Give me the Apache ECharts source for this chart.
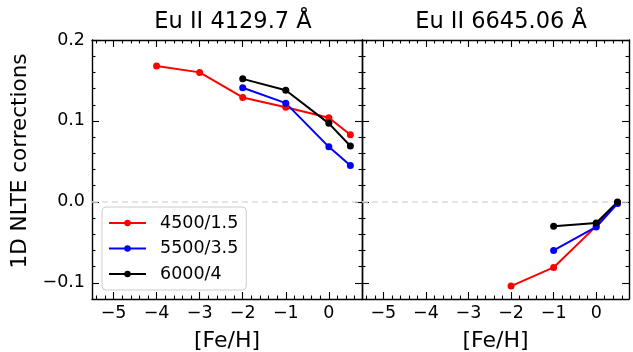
<!DOCTYPE html>
<html><head><meta charset="utf-8">
<script src="https://cdn.jsdelivr.net/npm/echarts@6/dist/echarts.min.js"></script>
<style>html,body{margin:0;padding:0;background:#fff}#c{width:633px;height:352px}</style>
</head><body><div id="c"></div>
<script>
// ---- data ----
const seriesNames = ['4500/1.5', '5500/3.5', '6000/4'];
const seriesColors = ['#ff0000', '#0000ff', '#000000'];
const titles = ['Eu II 4129.7 Å', 'Eu II 6645.06 Å'];
// left panel: Eu II 4129.7
const feh4500_4129 = [-4, -3, -2, -1, 0, 0.5];
const val4500_4129 = [0.168, 0.160, 0.129, 0.117, 0.104, 0.083];
const feh5500_4129 = [-2, -1, 0, 0.5];
const val5500_4129 = [0.141, 0.122, 0.068, 0.045];
const feh6000_4129 = [-2, -1, 0, 0.5];
const val6000_4129 = [0.152, 0.138, 0.097, 0.069];
// right panel: Eu II 6645.06
const feh4500_6645 = [-2, -1, 0, 0.5];
const val4500_6645 = [-0.104, -0.081, -0.030, -0.001];
const feh5500_6645 = [-1, 0, 0.5];
const val5500_6645 = [-0.060, -0.031, -0.002];
const feh6000_6645 = [-1, 0, 0.5];
const val6000_6645 = [-0.030, -0.026, 0.0];
const xTicks = [-5, -4, -3, -2, -1, 0];
const yTicks = [-0.1, 0.0, 0.1, 0.2];

const XMIN = -5.5, XMAX = 0.77, YMIN = -0.12, YMAX = 0.2;
const FONT = 'DejaVu Sans';
const xMinor = [], yMinor = [];
for (let i = -27; i <= 3; i++) { if (i % 5 !== 0) xMinor.push(+(i * 0.2).toFixed(2)); }
for (let i = -5; i <= 9; i++) { if (i % 5 !== 0) yMinor.push(+(i * 0.02).toFixed(3)); }
const minus = s => s.replace('-', '\u2212');

const grids = [
  {left: 92, top: 40, width: 270, height: 259, containLabel: false, outerBoundsMode: 'none'},
  {left: 362, top: 40, width: 267, height: 259, containLabel: false, outerBoundsMode: 'none'}
];
const xAxes = [], yAxes = [];
function mkX(g, pos, vals, len, label, line) {
  xAxes.push({
    type: 'value', gridIndex: g, position: pos, min: XMIN, max: XMAX,
    splitLine: {show: false},
    axisLine: {show: line, onZero: false, lineStyle: {color: '#000', width: 1.4}},
    axisTick: {show: true, inside: true, length: len, customValues: vals, lineStyle: {color: '#000', width: 1.1}},
    axisLabel: label ? {show: true, customValues: vals, margin: 5, fontSize: 17.5, fontFamily: FONT, color: '#000',
      formatter: v => minus(String(Math.round(v)))} : {show: false},
    name: label ? '[Fe/H]' : '', nameLocation: 'middle', nameGap: 31,
    nameTextStyle: {fontSize: 22, fontFamily: FONT, color: '#000'}
  });
}
function mkY(g, pos, vals, len, label, line) {
  yAxes.push({
    type: 'value', gridIndex: g, position: pos, min: YMIN, max: YMAX,
    splitLine: {show: false},
    axisLine: {show: line, onZero: false, lineStyle: {color: '#000', width: 1.4}},
    axisTick: {show: true, inside: true, length: len, customValues: vals, lineStyle: {color: '#000', width: 1.1}},
    axisLabel: label ? {show: true, customValues: vals, margin: 7, fontSize: 17.5, fontFamily: FONT, color: '#000',
      formatter: v => minus(v.toFixed(1))} : {show: false}
  });
}
for (let g = 0; g < 2; g++) {
  mkX(g, 'bottom', xTicks, 7, true, true);
  mkX(g, 'bottom', xMinor, 3.5, false, false);
  mkX(g, 'top', xTicks, 7, false, true);
  mkX(g, 'top', xMinor, 3.5, false, false);
  mkY(g, 'left', yTicks, 7, g === 0, true);
  mkY(g, 'left', yMinor, 3.5, false, false);
  mkY(g, 'right', yTicks, 7, false, true);
  mkY(g, 'right', yMinor, 3.5, false, false);
}
const panels = [
  [[feh4500_4129, val4500_4129], [feh5500_4129, val5500_4129], [feh6000_4129, val6000_4129]],
  [[feh4500_6645, val4500_6645], [feh5500_6645, val5500_6645], [feh6000_6645, val6000_6645]]
];
const series = [];
panels.forEach((p, g) => {
  p.forEach((s, i) => {
    series.push({
      type: 'line', name: seriesNames[i], xAxisIndex: g * 4, yAxisIndex: g * 4,
      data: s[0].map((x, k) => [x, s[1][k]]),
      symbol: 'circle', symbolSize: 7, showSymbol: true,
      itemStyle: {color: seriesColors[i]}, lineStyle: {color: seriesColors[i], width: 2},
      z: 5,
      markLine: i === 0 ? {silent: true, symbol: 'none', label: {show: false}, animation: false,
        lineStyle: {type: [6, 4], color: '#dcdcdc', width: 1.5}, data: [{yAxis: 0}]} : undefined
    });
  });
});
const chart = echarts.init(document.getElementById('c'), null, {renderer: 'canvas'});
chart.setOption({
  animation: false,
  backgroundColor: '#fff',
  title: [
    {text: titles[0], left: 228, top: 6, textAlign: 'center', textStyle: {fontSize: 22.5, fontWeight: 'normal', fontFamily: FONT, color: '#000'}},
    {text: titles[1], left: 496, top: 6, textAlign: 'center', textStyle: {fontSize: 22.5, fontWeight: 'normal', fontFamily: FONT, color: '#000'}}
  ],
  grid: grids,
  xAxis: xAxes, yAxis: yAxes,
  legend: {
    data: seriesNames, orient: 'vertical', left: 102, top: 207,
    itemWidth: 37, itemHeight: 8, itemGap: 7.5,
    padding: [7, 8, 7, 6],
    borderColor: '#cccccc', borderWidth: 1, borderRadius: 4, backgroundColor: 'rgba(255,255,255,0.8)',
    textStyle: {fontSize: 17.5, fontFamily: FONT, color: '#000', padding: [0, 0, 0, 9]}
  },
  graphic: [{type: 'text', x: 20, y: 161, rotation: Math.PI / 2,
    style: {text: '1D NLTE corrections', fontSize: 21.5, fontFamily: FONT, fill: '#000', align: 'center', verticalAlign: 'middle'}}],
  series: series
});
</script></body></html>
